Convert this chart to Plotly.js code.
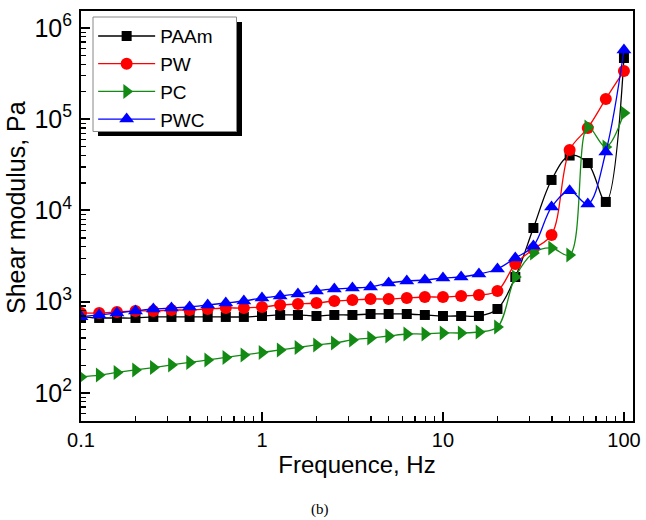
<!DOCTYPE html>
<html>
<head>
<meta charset="utf-8">
<script src="https://cdn.plot.ly/plotly-3.0.1.min.js"></script>
<style>html,body{margin:0;padding:0;background:#fff;}#chart{width:646px;height:520px;}</style>
</head>
<body>
<div id="chart"></div>
<script>
// Frequencies (Hz): 10 points per decade from 0.1 to 100
const freq = [0.1,0.126,0.158,0.2,0.251,0.316,0.398,0.501,0.631,0.794,
              1,1.26,1.58,2,2.51,3.16,3.98,5.01,6.31,7.94,
              10,12.6,15.8,20,25.1,31.6,39.8,50.1,63.1,79.4,100];
const seriesNames = ["PAAm","PW","PC","PWC"];
const paam = [681,664,664,664,681,681,681,681,681,681,
              698,716,716,698,716,716,734,734,734,716,
              698,698,698,833,1866,6430,21600,40000,33100,12400,469000];
const pw   = [753,753,773,792,792,812,812,833,854,854,
              876,921,945,969,1019,1045,1071,1071,1099,1127,
              1127,1156,1186,1312,2590,3780,5390,46000,80200,167000,338000];
const pc   = [150,157,168,179,190,203,216,230,245,261,
              278,296,315,336,353,381,400,421,443,443,
              455,455,466,528,1866,3420,3880,3250,82200,49700,117000];
const pwc  = [685,716,753,792,833,854,876,921,969,1019,
              1099,1156,1216,1312,1380,1415,1452,1604,1688,1730,
              1821,1867,2014,2285,3015,4080,10900,16400,11800,43700,574000];
// tick positions (decades labelled, 2..9 multiples as minor ticks)
const xMajor = [0.1, 1, 10, 100];
const xLabels = ["0.1","1","10","100"];
const yMajor = [100, 1000, 10000, 100000, 1000000];
const yLabels = ["10<sup>2</sup>","10<sup>3</sup>","10<sup>4</sup>","10<sup>5</sup>","10<sup>6</sup>"];
const xTitle = "Frequence, Hz";
const yTitle = "Shear modulus, Pa";
const caption = "(b)";

const colors = ["#000000","#ff0000","#138a13","#0000ff"];
const symbols = ["square","circle","triangle-right","triangle-up"];
const sizes = [10,12,13,13];
const ys = [paam,pw,pc,pwc];

const traces = ys.map((y,i)=>({
  x: freq, y: y, name: seriesNames[i], type: "scatter", mode: "lines+markers",
  line: {color: colors[i], width: 1.3, shape: "spline", smoothing: 1},
  marker: {color: colors[i], symbol: symbols[i], size: sizes[i]}
}));

const xRange = [-1, 2.05];
const yRange = [1.693, 6.186];

const minorVals = majors => {
  const out = [];
  majors.forEach(m => { for (let k = 2; k <= 9; k++) out.push(m * k); });
  const lo = majors[0] / 10;
  for (let k = 2; k <= 9; k++) out.push(lo * k);
  return out;
};

const axisCommon = {
  type: "log", showgrid: false, zeroline: false,
  showline: true, linecolor: "#000", linewidth: 2, mirror: true,
  ticks: "inside", ticklen: 9, tickwidth: 2, tickcolor: "#000",
  layer: "above traces"
};

// paper coords from pixel positions
const px = v => (v - 81) / 552;
const py = v => (421 - v) / 410;

const layout = {
  width: 646, height: 520,
  margin: {l: 81, r: 13, t: 11, b: 99},
  paper_bgcolor: "#fff", plot_bgcolor: "#fff",
  font: {family: "Arial, 'Liberation Sans', sans-serif", color: "#000"},
  showlegend: true,
  legend: {
    x: 0.022, y: 0.985, xanchor: "left", yanchor: "top",
    bgcolor: "rgba(0,0,0,0)", borderwidth: 0,
    font: {size: 19}, itemwidth: 57, tracegroupgap: 0
  },
  xaxis: Object.assign({}, axisCommon, {
    range: xRange, tickmode: "array", tickvals: xMajor, ticktext: xLabels,
    tickfont: {size: 20},
    minor: {tickmode: "array", tickvals: minorVals(xMajor), ticks: "inside", ticklen: 5, tickwidth: 1.3, tickcolor: "#000", showgrid: false},
    title: {text: xTitle, font: {size: 24}, standoff: 6}
  }),
  yaxis: Object.assign({}, axisCommon, {
    range: yRange, tickmode: "array", tickvals: yMajor, ticktext: yLabels,
    tickfont: {size: 25}, ticklabelstandoff: 2,
    minor: {tickmode: "array", tickvals: minorVals(yMajor), ticks: "inside", ticklen: 5, tickwidth: 1.3, tickcolor: "#000", showgrid: false}
  }),
  shapes: [
    {type: "rect", xref: "paper", yref: "paper", x0: px(237), x1: px(242), y0: py(22), y1: py(136),
     fillcolor: "#000", line: {width: 0}, layer: "above"},
    {type: "rect", xref: "paper", yref: "paper", x0: px(98), x1: px(242), y0: py(131), y1: py(136),
     fillcolor: "#000", line: {width: 0}, layer: "above"},
    {type: "rect", xref: "paper", yref: "paper", x0: px(93), x1: px(236.5), y0: py(17), y1: py(131.5),
     fillcolor: "#fff", line: {color: "#888", width: 1}, layer: "above"}
  ],
  annotations: [
    {text: yTitle, xref: "paper", yref: "paper", x: px(16), y: py(208),
     xanchor: "center", yanchor: "middle", textangle: -90, showarrow: false,
     font: {size: 25}},
    {text: caption, xref: "paper", yref: "paper", x: 0.433, y: -0.19,
     xanchor: "center", yanchor: "top", showarrow: false,
     font: {family: "'Liberation Serif', 'Times New Roman', serif", size: 15}}
  ]
};

Plotly.newPlot("chart", traces, layout, {displayModeBar: false, staticPlot: true});
</script>
</body>
</html>
